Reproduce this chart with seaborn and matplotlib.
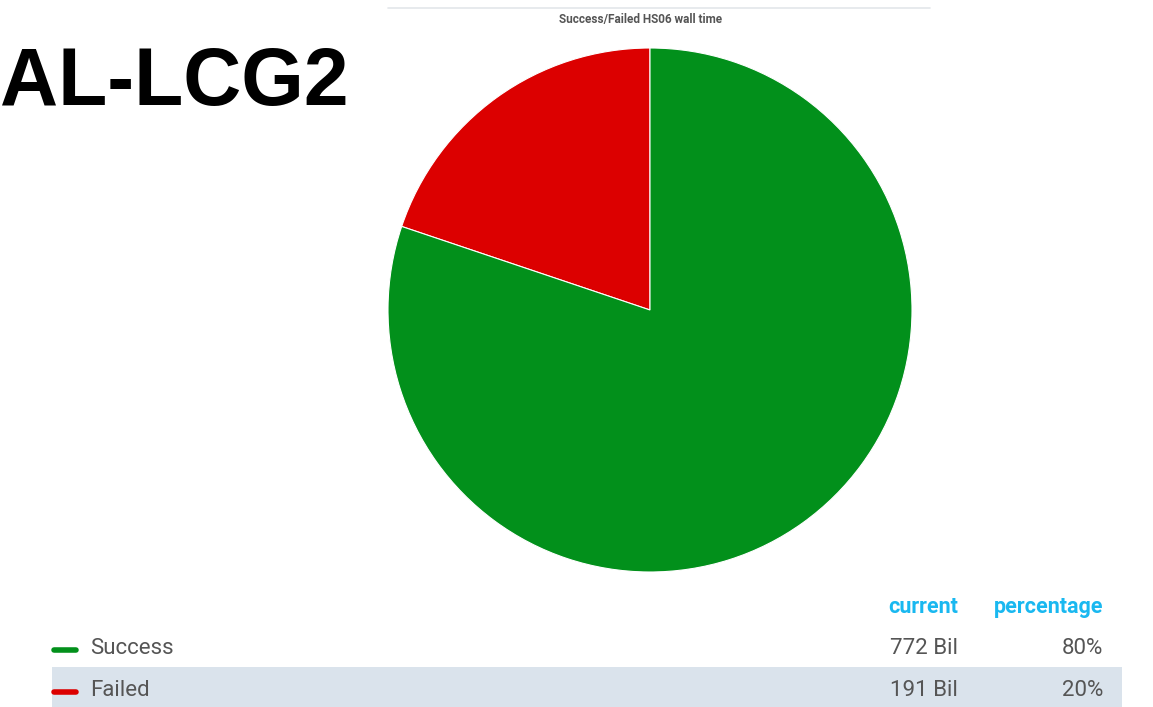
import numpy as np
import pandas as pd
import matplotlib
matplotlib.use('Agg')
import matplotlib.pyplot as plt
import seaborn as sns

# data
labels = ['Failed', 'Success']
values = [191, 772]
current_text = ['191 Bil', '772 Bil']
colors = ['#dc0000', '#02901b']
legend_order = ['Success', 'Failed']

df = pd.DataFrame({'label': labels, 'value': values, 'current': current_text, 'color': colors})
df['pct'] = (df['value'] / df['value'].sum() * 100).round().astype(int)

sns.set_style('white')
plt.rcParams['font.family'] = ['Roboto', 'DejaVu Sans']

W, H = 1153, 707
fig = plt.figure(figsize=(W / 100, H / 100), dpi=100, facecolor='white')

def fx(px):
    return px / W

def fy(py):
    return 1 - py / H

# pie
cx, cy, r = 650, 310, 262
ax = fig.add_axes([fx(cx - r), fy(cy + r), fx(2 * r), (2 * r) / H])
ax.pie(df['value'], colors=df['color'], startangle=90, counterclock=True,
       wedgeprops={'edgecolor': 'white', 'linewidth': 0.8})
ax.set_xlim(-1, 1)
ax.set_ylim(-1, 1)
ax.axis('off')

# header line and title
fig.add_artist(plt.Line2D([fx(388), fx(930)], [fy(8), fy(8)], color='#e3e6ea', linewidth=1.2))
fig.text(fx(641), fy(20), 'Success/Failed HS06 wall time', ha='center', va='center',
         fontsize=8.5, fontweight='bold', color='#555555')

# big site label
fig.text(fx(0), fy(84), 'AL-LCG2', ha='left', va='center', fontsize=58, fontweight='bold',
         color='black', family=['Liberation Sans', 'DejaVu Sans'])

# legend table
cyan = '#19b8f0'
fig.text(fx(958), fy(607), 'current', ha='right', va='center', fontsize=15.5,
         fontweight='bold', color=cyan)
fig.text(fx(1103), fy(607), 'percentage', ha='right', va='center', fontsize=15.5,
         fontweight='bold', color=cyan)

row_y = {'Success': 648, 'Failed': 690}
fig.add_artist(plt.Rectangle((fx(52), fy(707)), fx(1122 - 52), 40 / H,
                             facecolor='#dae3ec', edgecolor='none', zorder=0))
for name in legend_order:
    row = df[df['label'] == name].iloc[0]
    y = row_y[name]
    fig.add_artist(plt.Line2D([fx(54), fx(76)], [fy(y + 2), fy(y + 2)], color=row['color'],
                              linewidth=4, solid_capstyle='round'))
    fig.text(fx(90), fy(y), name, ha='left', va='center', fontsize=16, color='#555555')
    fig.text(fx(958), fy(y), row['current'], ha='right', va='center', fontsize=16, color='#555555')
    fig.text(fx(1103), fy(y), f"{row['pct']}%", ha='right', va='center', fontsize=16, color='#555555')

plt.savefig('out.png', dpi=100, facecolor='white')
